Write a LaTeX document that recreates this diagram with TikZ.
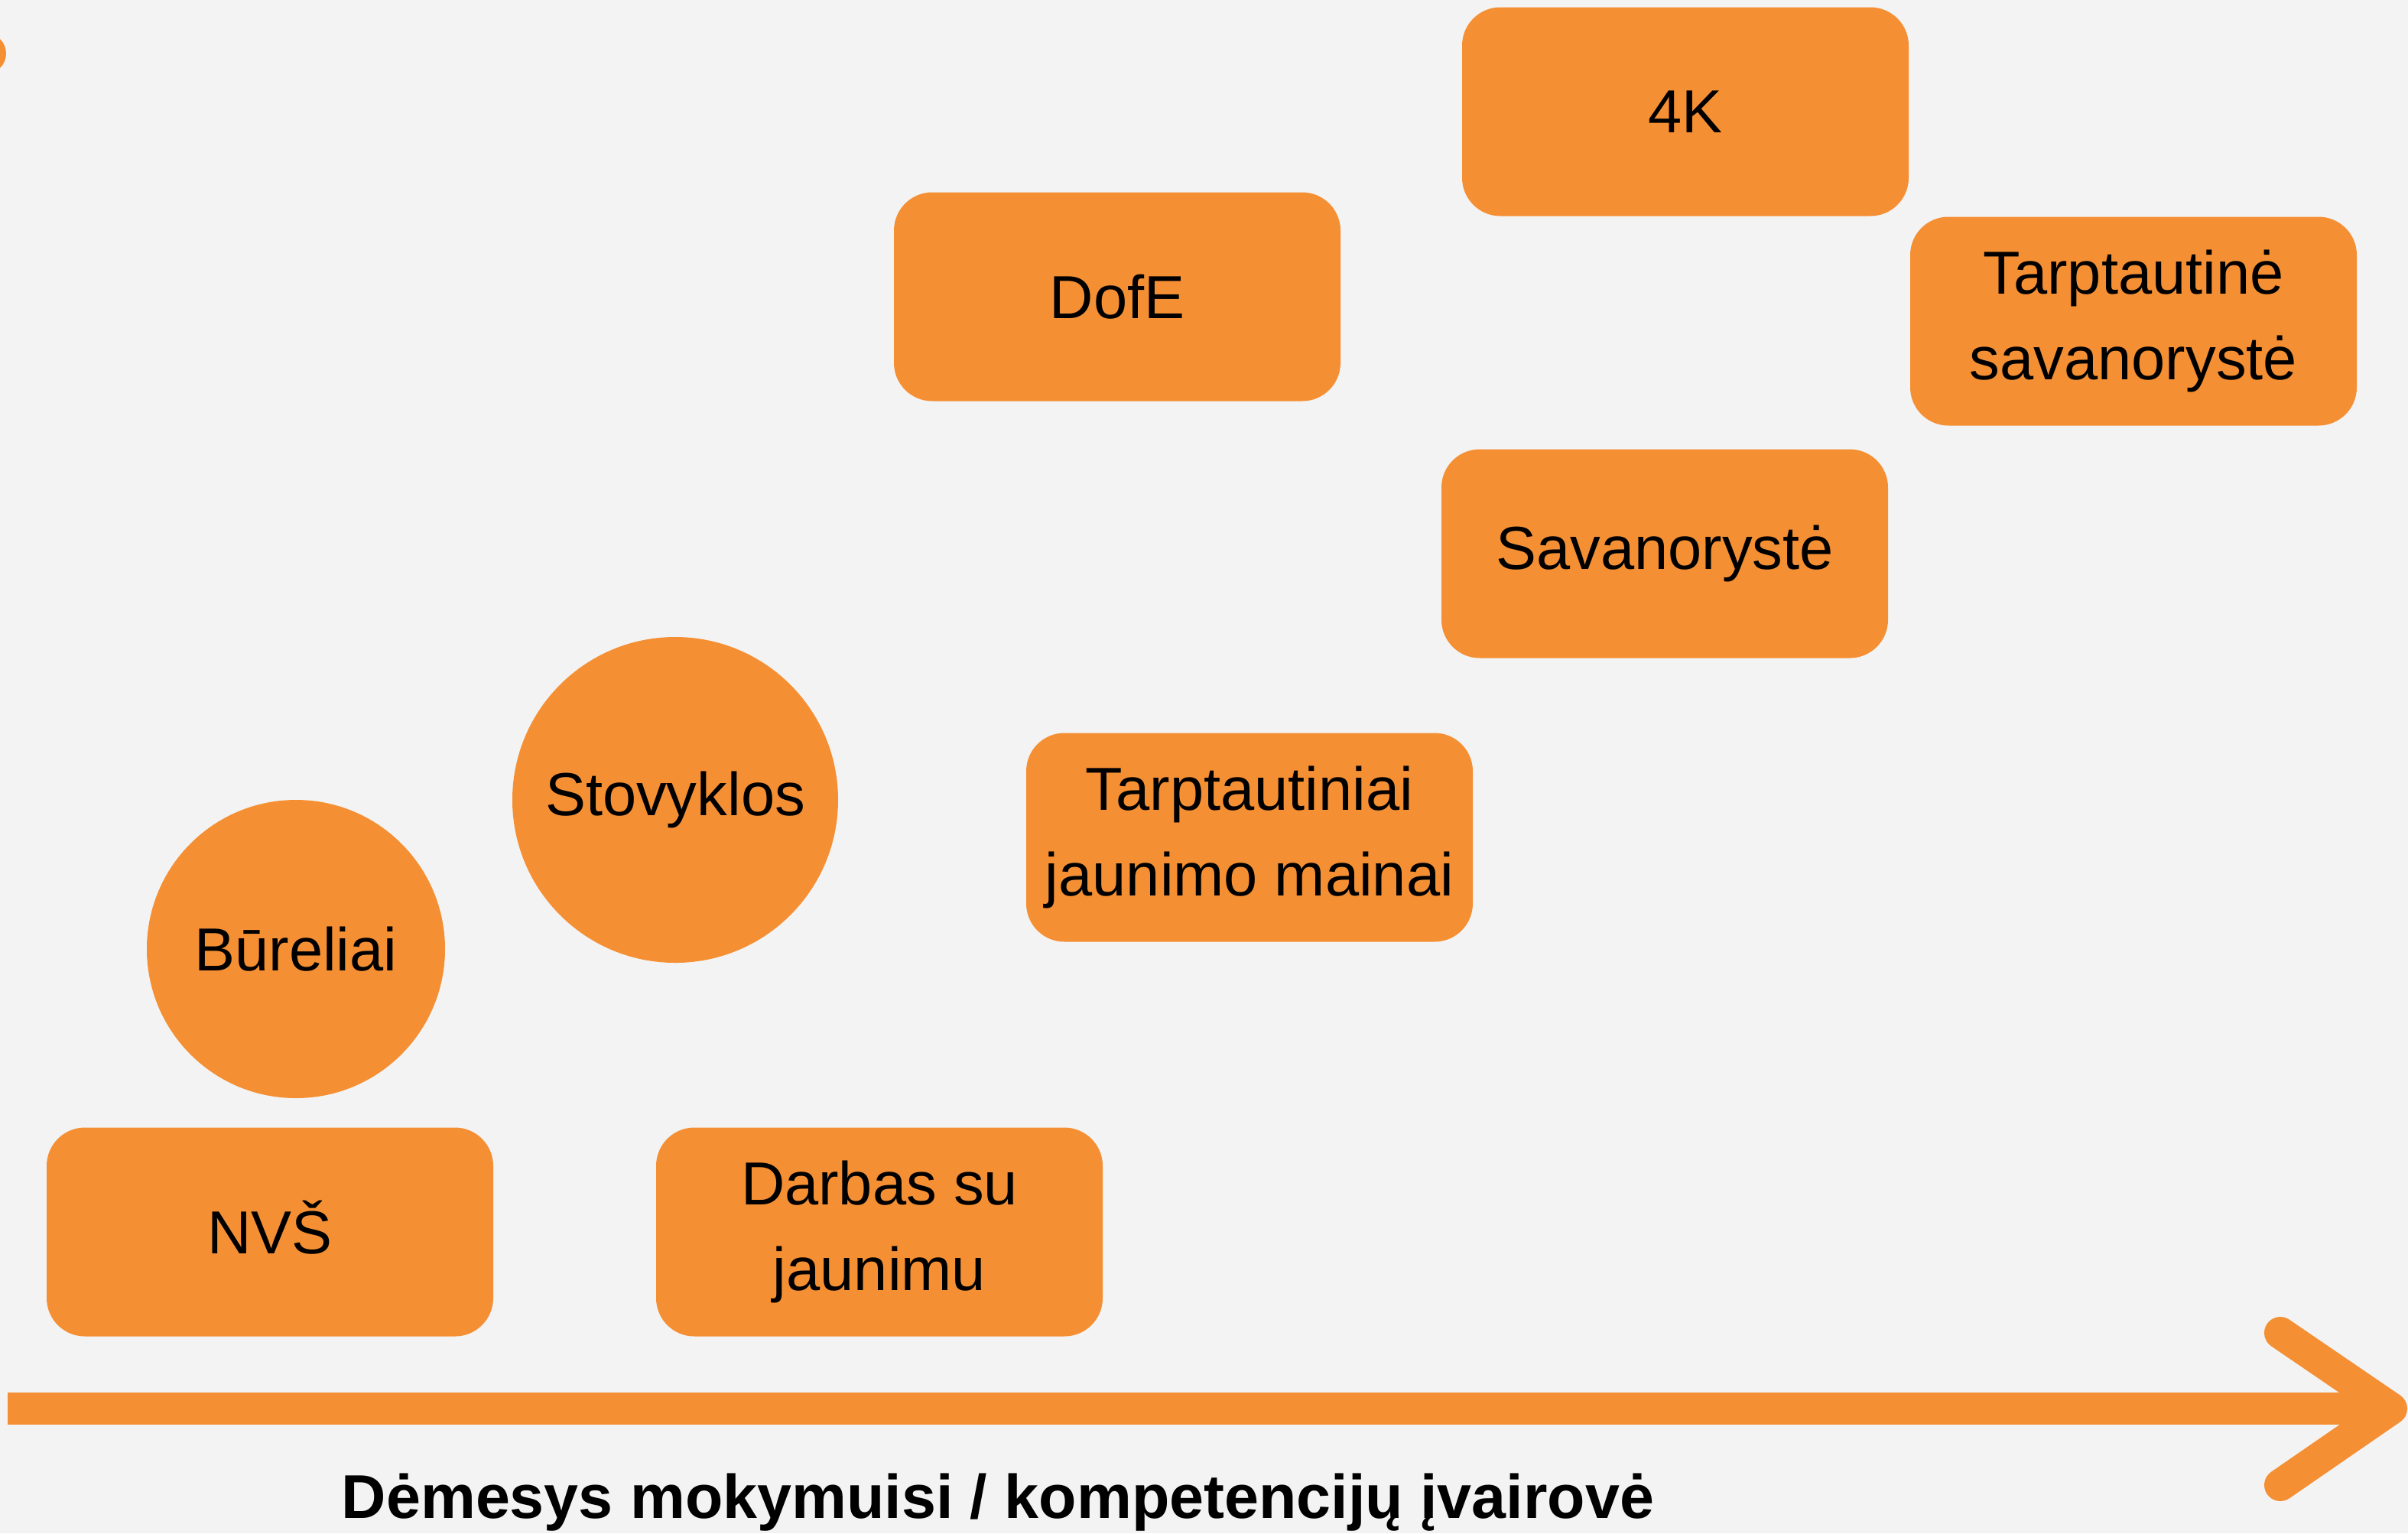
\documentclass[tikz,border=0pt]{standalone}
\usepackage{fontspec}
\setmainfont{Liberation Sans}
\usepackage{xcolor}
\definecolor{boxorange}{RGB}{245,143,51}
\definecolor{bggray}{RGB}{243,243,243}

\begin{document}
\begin{tikzpicture}[
    box/.style={fill=boxorange,rounded corners=0.5cm,minimum width=5.84cm,minimum height=2.73cm,
      inner sep=0pt,align=center,font=\fontsize{22.6}{31.8}\selectfont},
    ball/.style={circle,fill=boxorange,inner sep=0pt,align=center,font=\fontsize{22.6}{31.8}\selectfont},
    axisline/.style={draw=boxorange,line width=0.42cm},
    axishead/.style={draw=boxorange,line width=0.42cm,line cap=round,line join=round}]
              \useasboundingbox (0,0) rectangle (31.49,-20.05);
              \fill[bggray] (0,0) rectangle (31.49,-20.05);
              \fill[boxorange] (-0.185,-0.70) circle (0.265cm);
              % top row
              \node[box] (fourk) at (22.04,-1.46) {4K};
              \node[box] (dofe) at (14.61,-3.88) {DofE};
              \node[box] (tarpsav) at (27.90,-4.20) {Tarptautinė\\savanorystė};
              \node[box] (sav) at (21.77,-7.24) {Savanorystė};
              \node[box] (mainai) at (16.34,-10.95) {Tarptautiniai\\jaunimo mainai};
              % circles
              \node[ball,minimum size=4.26cm] (stovyklos) at (8.83,-10.46) {Stovyklos};
              \node[ball,minimum size=3.90cm] (bureliai) at (3.87,-12.41) {Būreliai};
              % bottom row
              \node[box,text height=0.57cm,text depth=0cm] (nvs) at (3.53,-16.11) {NVŠ};
              \node[box] (darbas) at (11.50,-16.11) {Darbas su\\jaunimu};
              % axis
              \coordinate (axisstart) at (0.10,-18.42);
              \coordinate (axisend) at (31.27,-18.42);
              \coordinate (headtop) at (29.82,-17.43);
              \coordinate (headbot) at (29.82,-19.42);
              \draw[axisline] (axisstart) -- (axisend);
              \draw[axishead] (headtop) -- (axisend) -- (headbot);
              \node[anchor=base,font=\fontsize{23}{28}\selectfont\bfseries] (axislabel) at (13.05,-19.85)
                {Dėmesys mokymuisi / kompetencijų įvairovė};
\end{tikzpicture}
\end{document}
